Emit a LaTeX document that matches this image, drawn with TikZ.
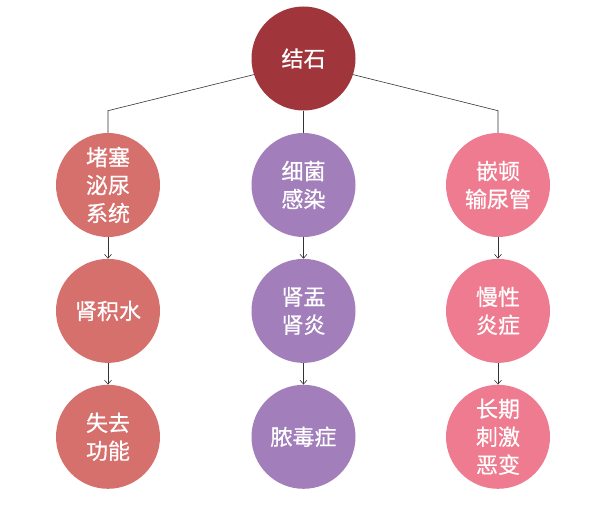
\documentclass[tikz,border=0pt]{standalone}
\usepackage{fontspec}
\newfontfamily\cjk[FakeBold=0.6]{Noto Sans CJK SC}
\usetikzlibrary{positioning,arrows.meta}
\definecolor{rootred}{HTML}{A0353B}
\definecolor{salmon}{HTML}{D6706D}
\definecolor{lilac}{HTML}{A27EBA}
\definecolor{rosepink}{HTML}{EE7B8F}

\begin{document}
\begin{tikzpicture}[
    x=1pt, y=1pt,
    node distance=21.5pt,
    bubble/.style={circle, minimum size=104pt, inner sep=0pt, align=center,
                   text=white, font=\cjk\fontsize{22}{28}\selectfont},
    link/.style={draw=black!80, line width=0.6pt},
    arrow/.style={link, -{Straight Barb[length=4pt, width=7pt]}}
  ]
    \useasboundingbox (0,0) rectangle (608,-511);
    % Root
    \node[bubble, fill=rootred] (root) at (303.5,-58.5) {结石};
    % First row
    \node[bubble, fill=salmon] (a1) at (108,-185) {堵塞\\泌尿\\系统};
    \node[bubble, fill=lilac] (b1) at (303.5,-185) {细菌\\感染};
    \node[bubble, fill=rosepink] (c1) at (498,-185) {嵌顿\\输尿管};
    % Second row
    \node[bubble, fill=salmon, below=of a1] (a2) {肾积水};
    \node[bubble, fill=lilac, below=of b1] (b2) {肾盂\\肾炎};
    \node[bubble, fill=rosepink, below=of c1] (c2) {慢性\\炎症};
    % Third row
    \node[bubble, fill=salmon, below=of a2] (a3) {失去\\功能};
    \node[bubble, fill=lilac, below=of b2] (b3) {脓毒症};
    \node[bubble, fill=rosepink, below=of c2] (c3) {长期\\刺激\\恶变};

    % Tree lines
    \draw[link] (root.198) -- (root.south -| a1) -- (a1);
    \draw[link] (root) -- (b1);
    \draw[link] (root.-18) -- (root.south -| c1) -- (c1);

    % Arrows
    \draw[arrow] (a1) -- (a2);
    \draw[arrow] (a2) -- (a3);
    \draw[arrow] (b1) -- (b2);
    \draw[arrow] (b2) -- (b3);
    \draw[arrow] (c1) -- (c2);
    \draw[arrow] (c2) -- (c3);
  \end{tikzpicture}
\end{document}
